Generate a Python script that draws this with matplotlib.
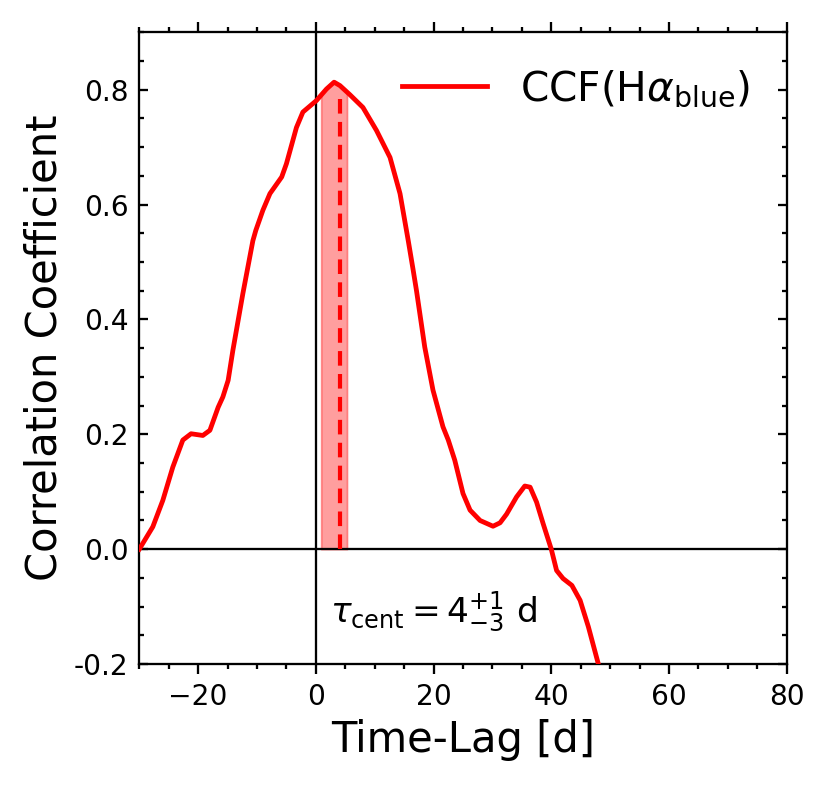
import numpy as np
import matplotlib
matplotlib.use('Agg')
import matplotlib.pyplot as plt
from matplotlib.ticker import MultipleLocator, FormatStrFormatter

# CCF
lag = [-30, -27.7, -26.0, -24.3, -22.6, -21.2, -19.2, -18.0, -16.6, -15.8, -14.9,
       -14.1, -12.4, -10.7, -10.2, -9.0, -7.8, -5.8, -5.0, -3.3, -2.2,
       0.1, 1.8, 3.1, 4.1, 5.8, 8.0, 10.3, 12.6, 14.3, 15.7, 16.5, 17.1, 18.5,
       19.9, 21.6, 22.5, 23.6, 25.0, 26.2, 27.9, 30.1, 31.3, 32.4, 34.1, 35.5,
       36.4, 37.5, 38.6, 40.0, 40.9, 42.0, 43.5, 44.9, 46.3, 48.0, 49.0]
ccf = [0.0, 0.039, 0.085, 0.143, 0.19, 0.201, 0.198, 0.207, 0.247, 0.265, 0.294,
       0.346, 0.445, 0.537, 0.555, 0.59, 0.619, 0.648, 0.671, 0.734, 0.761,
       0.781, 0.801, 0.813, 0.807, 0.791, 0.769, 0.729, 0.682, 0.619, 0.537, 0.488,
       0.45, 0.352, 0.277, 0.213, 0.19, 0.155, 0.097, 0.068, 0.05, 0.04, 0.046,
       0.061, 0.091, 0.11, 0.108, 0.082, 0.045, 0.0, -0.037, -0.051, -0.063,
       -0.089, -0.135, -0.2, -0.235]

tau_cent = 4.1
tau_lo = 0.9
tau_hi = 5.3

fig = plt.figure(figsize=(829/150, 785/150), dpi=150)
ax = fig.add_axes([0.168, 0.154, 0.781, 0.805])

ax.axhline(0, color='k', lw=1.1)
ax.axvline(0, color='k', lw=1.1)

ax.plot(lag, ccf, color='red', lw=2.3, label=r'CCF(H$\alpha_{\mathrm{blue}}$)', zorder=3)

xs = np.linspace(tau_lo, tau_hi, 50)
ax.fill_between(xs, 0, np.interp(xs, lag, ccf), color='red', alpha=0.38, lw=0.8)
ax.vlines(tau_cent, 0, np.interp(tau_cent, lag, ccf) - 0.012, color='red',
          lw=2, linestyles=(0, (3.5, 2)))

ax.text(2.4, -0.128, r'$\tau_{\mathrm{cent}} = 4^{+1}_{-3}$ d', fontsize=16.5,
        ha='left', va='baseline')

ax.set_xlim(-30, 80)
ax.set_ylim(-0.2, 0.9)
ax.set_yticks([-0.2, 0.0, 0.2, 0.4, 0.6, 0.8])
ax.yaxis.set_major_formatter(FormatStrFormatter('%.1f'))
ax.xaxis.set_major_locator(MultipleLocator(20))
ax.xaxis.set_minor_locator(MultipleLocator(5))
ax.yaxis.set_minor_locator(MultipleLocator(0.05))
# x ticks point out, y ticks point in
ax.tick_params(axis='x', which='both', direction='out', top=True, width=1.1)
ax.tick_params(axis='x', which='major', length=5, labelsize=13.5, pad=4)
ax.tick_params(axis='x', which='minor', length=2.5)
ax.tick_params(axis='y', which='both', direction='in', right=True, width=1.1)
ax.tick_params(axis='y', which='major', length=4.5, labelsize=13.5, pad=5)
ax.tick_params(axis='y', which='minor', length=2.5)
for s in ax.spines.values():
    s.set_linewidth(1.1)

ax.set_xlabel('Time-Lag [d]', fontsize=20)
ax.set_ylabel('Correlation Coefficient', fontsize=20)
ax.legend(loc='upper right', frameon=False, fontsize=19.5, handlelength=2.1)

fig.savefig('out.png', dpi=150)
